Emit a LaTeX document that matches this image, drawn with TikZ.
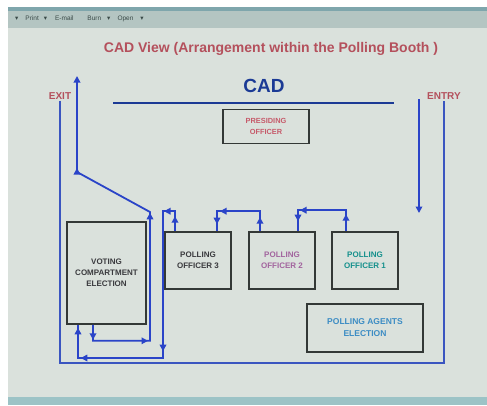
\documentclass[tikz,border=0pt]{standalone}
\usepackage{fontspec}
\setmainfont{Liberation Sans}
\newfontfamily\symfont{DejaVu Sans}
\usetikzlibrary{arrows.meta,decorations.markings}
\definecolor{screenbg}{HTML}{DAE1DC}
\definecolor{toolbar}{HTML}{B4C5C2}
\definecolor{topstrip}{HTML}{7FA6AC}
\definecolor{bottomband}{HTML}{9CC3C6}
\definecolor{titlered}{HTML}{B4505C}
\definecolor{cadblue}{HTML}{1B3A95}
\definecolor{flowc}{HTML}{2A44C8}
\definecolor{wallc}{HTML}{3A55C0}
\definecolor{boxc}{HTML}{333836}
\definecolor{po3c}{HTML}{3A3A3E}
\definecolor{po2c}{HTML}{A2649E}
\definecolor{po1c}{HTML}{14908C}
\definecolor{agentc}{HTML}{3C8CC4}
\definecolor{presc}{HTML}{C65A6A}
\definecolor{tbtext}{HTML}{3A4A48}
\tikzset{
  box/.style={draw=boxc, line width=1.6pt, inner sep=0pt, align=center,
    font=\bfseries\fontsize{8}{11}\selectfont},
  flow/.style={draw=flowc, color=flowc, line width=1.8pt, line join=miter},
  wall/.style={draw=wallc, line width=1.2pt},
  lbl/.style={font=\bfseries\fontsize{10}{11}\selectfont, text=titlered, inner sep=1pt},
  tri/.tip={Triangle[length=6.5pt,width=6.5pt]},
}
\begin{document}
\begin{tikzpicture}[x=1pt,y=-1pt]
\useasboundingbox (0,0) rectangle (487,405);
% screen background
\fill[white] (0,0) rectangle (487,405);
\fill[screenbg] (8,7) rectangle (487,405);
\fill[toolbar] (8,7) rectangle (487,28);
\fill[topstrip] (8,7) rectangle (487,11);
\fill[bottomband] (8,397) rectangle (487,405);
\node[anchor=west, text=tbtext, font=\fontsize{6.5}{7}\selectfont, inner sep=0pt] (toolbartext) at (15,19)
  {{\symfont ▾}\hspace{7pt}Print\hspace{5pt}{\symfont ▾}\hspace{8pt}E-mail\hspace{14pt}Burn\hspace{6pt}{\symfont ▾}\hspace{7pt}Open\hspace{7pt}{\symfont ▾}};

% titles
\node[font=\bfseries\fontsize{14}{16}\selectfont, text=titlered] (title) at (271,49)
  {CAD View (Arrangement within the Polling Booth )};
\node[font=\bfseries\fontsize{19}{22}\selectfont, text=cadblue] (cad) at (264,86) {CAD};
\draw[draw=cadblue, line width=2.4pt] (113,103) -- (394,103);

% labels
\node[lbl] (exit) at (60,96) {EXIT};
\node[lbl] (entry) at (444,96) {ENTRY};

% boxes
\node[box, minimum width=86pt, minimum height=34pt, text=presc,
  font=\bfseries\fontsize{7.4}{11}\selectfont] (pres) at (266,126.5) {PRESIDING\\OFFICER};
\node[box, minimum width=79pt, minimum height=102pt, text=po3c] (vote) at (106.5,273)
  {VOTING\\COMPARTMENT\\ELECTION};
\node[box, minimum width=66pt, minimum height=57pt, text=po3c] (po3) at (198,260.5) {POLLING\\OFFICER 3};
\node[box, minimum width=66pt, minimum height=57pt, text=po2c] (po2) at (282,260.5) {POLLING\\OFFICER 2};
\node[box, minimum width=66pt, minimum height=57pt, text=po1c] (po1) at (365,260.5) {POLLING\\OFFICER 1};
\node[box, minimum width=116pt, minimum height=48pt, text=agentc,
  font=\bfseries\fontsize{8.5}{12}\selectfont] (agents) at (365,328)
  {POLLING AGENTS\\ELECTION};

% outer boundary
\coordinate (floor) at (250,363);
\draw[wall] (exit.south) -- (exit.south |- floor) -- (entry.south |- floor) -- (entry.south);

% entry arrow
\coordinate (entrytop) at (419,99);
\coordinate (entryend) at (419,213);
\draw[flow, -{tri}] (entrytop) -- (entryend);

% PO1 -> PO2
\draw[flow, postaction={decorate}, decoration={markings,
    mark=at position 17pt with {\arrow{tri}},
    mark=at position 67pt with {\arrow{tri}},
    mark=at position 80pt with {\arrow{tri}}}]
  ([xshift=-19pt]po1.north) -- ++(0,-21) -| ([xshift=16pt]po2.north);

% PO2 -> PO3
\draw[flow, postaction={decorate}, decoration={markings,
    mark=at position 14pt with {\arrow{tri}},
    mark=at position 60pt with {\arrow{tri}},
    mark=at position 76pt with {\arrow{tri}}}]
  ([xshift=-22pt]po2.north) -- ++(0,-20) -| ([xshift=19pt]po3.north);

% PO3 -> voting compartment
\coordinate (bottomrun) at (120,358);
\draw[flow, postaction={decorate}, decoration={markings,
    mark=at position 15pt with {\arrow{tri}},
    mark=at position 31pt with {\arrow{tri}},
    mark=at position 172pt with {\arrow{tri}},
    mark=at position 261pt with {\arrow{tri}},
    mark=at position 294pt with {\arrow{tri}}}]
  ([xshift=-23pt]po3.north) -- ++(0,-20) -- ++(-12,0)
  -- (163,358) -- ([xshift=-28.5pt]vote.south |- bottomrun) -- ([xshift=-28.5pt]vote.south);

% voting compartment -> exit
\coordinate (j1) at (150,212);
\coordinate (j2) at (77,172);
\coordinate (exittop) at (77,76);
\draw[flow, -{tri}, postaction={decorate}, decoration={markings,
    mark=at position 15pt with {\arrow{tri}},
    mark=at position 71pt with {\arrow{tri}},
    mark=at position 201pt with {\arrow{tri}},
    mark=at position 289pt with {\arrow{tri}}}]
  ([xshift=-13.5pt]vote.south) -- ++(0,16) -| (j1) -- (j2) -- (exittop);
\end{tikzpicture}
\end{document}
